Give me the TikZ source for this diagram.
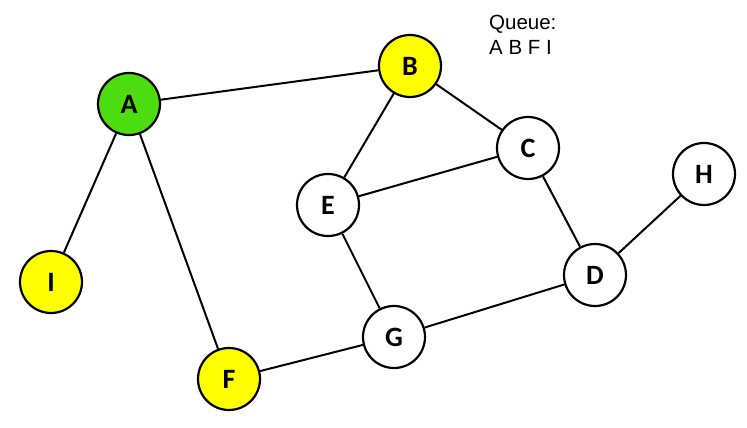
\documentclass[tikz,border=0pt]{standalone}
\usepackage{fontspec}
\setmainfont{Liberation Sans}
\newfontfamily\labelfont{Carlito}
\begin{document}
\begin{tikzpicture}[x=1pt,y=-1pt,
  vertex/.style={circle,draw=black,line width=2.2pt,minimum size=62pt,inner sep=0pt,
    fill=white,font=\labelfont\bfseries\fontsize{28}{28}\selectfont},
  visited/.style={vertex,fill=yellowfill},
  current/.style={vertex,fill=greenfill},
  edge/.style={line width=2pt,draw=black}]
\definecolor{yellowfill}{RGB}{255,255,0}
\definecolor{greenfill}{RGB}{76,222,16}
\useasboundingbox (0,0) rectangle (747,428);
% vertices
\node[current] (A) at (129,104) {A};
\node[visited] (B) at (410,66) {B};
\node[vertex]  (C) at (528,148) {C};
\node[vertex]  (E) at (328,205) {E};
\node[vertex]  (H) at (704,174) {H};
\node[visited] (I) at (51,282) {I};
\node[vertex]  (D) at (595,275) {D};
\node[vertex]  (G) at (394,337) {G};
\node[visited] (F) at (229,379) {F};
% edges
\draw[edge] (A) -- (B);
\draw[edge] (A) -- (I);
\draw[edge] (A) -- (F);
\draw[edge] (B) -- (E);
\draw[edge] (B) -- (C);
\draw[edge] (C) -- (E);
\draw[edge] (C) -- (D);
\draw[edge] (E) -- (G);
\draw[edge] (D) -- (H);
\draw[edge] (D) -- (G);
\draw[edge] (F) -- (G);
% queue contents
\node[anchor=north west,inner sep=0pt,align=left,font=\fontsize{20.5}{25}\selectfont]
  (queue) at (489,15) {Queue:\\A B F I};
\end{tikzpicture}
\end{document}
